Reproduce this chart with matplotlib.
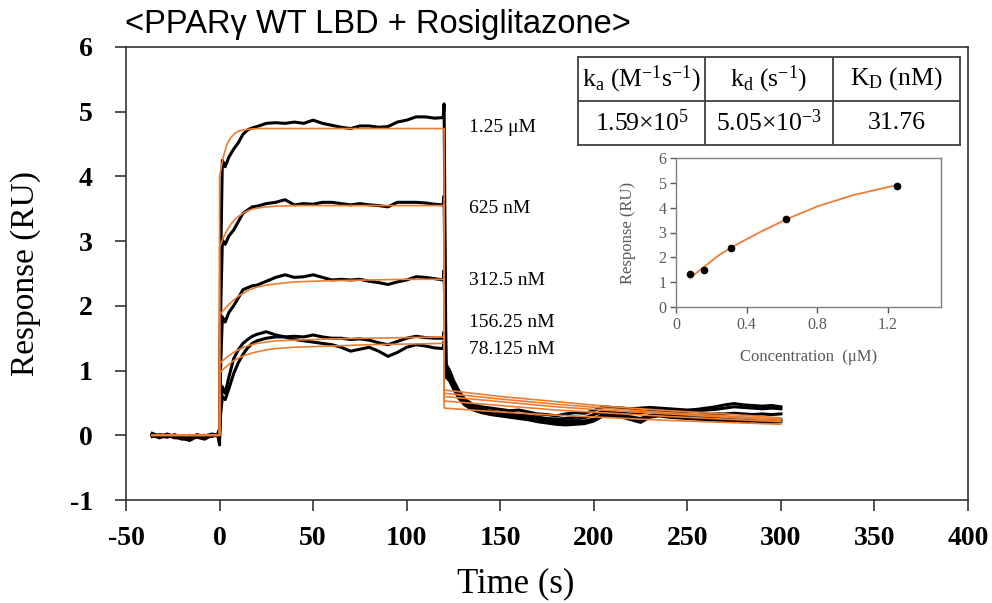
import matplotlib
matplotlib.use("Agg")
import matplotlib.pyplot as plt

plt.rcParams['font.family'] = ['Liberation Serif', 'DejaVu Serif']
plt.rcParams['mathtext.fontset'] = 'custom'
plt.rcParams['mathtext.rm'] = 'Liberation Serif'
plt.rcParams['mathtext.it'] = 'Liberation Serif:italic'
plt.rcParams['axes.unicode_minus'] = False

# ---- sensorgram data ----
conc_labels = ["1.25 \u03bcM", "625 nM", "312.5 nM", "156.25 nM", "78.125 nM"]
label_y = [4.75, 3.51, 2.39, 1.74, 1.32]

t_base = [-36, -32, -28, -24, -20, -16, -12, -8, -4, -1, 0]
t_assoc = [0.5, 1.5, 3, 5, 7.5, 10, 12.5, 15, 17.5, 20, 25, 30, 35, 40, 45, 50, 55,
           60, 65, 70, 75, 80, 85, 90, 95, 100, 105, 110, 115, 119.5, 120]
t_dissoc = [121, 123, 125, 128, 131, 135, 140, 145, 150, 155, 160, 165, 170, 175,
            180, 185, 190, 195, 200, 205, 210, 215, 220, 225, 230, 235, 240, 245,
            250, 255, 260, 265, 270, 275, 280, 285, 290, 295, 300]

base_1 = [0.03, -0.02, 0.01, -0.03, -0.05, -0.02, 0.0, -0.04, 0.01, 0.0, 0.05]
base_2 = [0.0, -0.04, 0.02, -0.02, -0.06, -0.03, 0.01, -0.02, 0.0, 0.01, -0.15]
base_3 = [0.02, -0.01, -0.03, 0.01, -0.04, -0.05, -0.01, 0.0, -0.02, 0.02, 0.1]
base_4 = [-0.02, 0.01, 0.0, -0.04, -0.03, 0.0, -0.03, -0.06, 0.0, -0.01, 0.0]
base_5 = [0.01, -0.03, -0.01, 0.0, -0.05, -0.08, -0.02, -0.01, 0.02, 0.0, -0.05]

assoc_1 = [2.5, 4.25, 4.15, 4.3, 4.42, 4.52, 4.65, 4.72, 4.75, 4.77, 4.82, 4.83, 4.82,
           4.84, 4.82, 4.87, 4.82, 4.79, 4.76, 4.74, 4.78, 4.78, 4.76, 4.77, 4.84,
           4.87, 4.92, 4.92, 4.90, 4.91, 5.12]
assoc_2 = [1.8, 3.02, 2.95, 3.08, 3.17, 3.3, 3.43, 3.48, 3.53, 3.54, 3.58, 3.6, 3.64,
           3.56, 3.58, 3.57, 3.6, 3.6, 3.58, 3.56, 3.58, 3.56, 3.55, 3.53, 3.6, 3.6,
           3.6, 3.59, 3.57, 3.56, 3.7]
assoc_3 = [1.0, 1.83, 1.75, 1.9, 2.0, 2.12, 2.25, 2.28, 2.31, 2.32, 2.38, 2.44, 2.48,
           2.44, 2.45, 2.48, 2.44, 2.40, 2.41, 2.40, 2.41, 2.38, 2.36, 2.33, 2.37,
           2.4, 2.45, 2.44, 2.42, 2.40, 2.55]
assoc_4 = [0.4, 0.75, 0.65, 0.9, 1.18, 1.32, 1.42, 1.48, 1.53, 1.56, 1.6, 1.55, 1.52,
           1.53, 1.52, 1.55, 1.52, 1.5, 1.5, 1.48, 1.49, 1.47, 1.43, 1.40, 1.45, 1.5,
           1.53, 1.51, 1.5, 1.5, 1.6]
assoc_5 = [0.3, 0.6, 0.55, 0.72, 0.95, 1.12, 1.25, 1.35, 1.42, 1.46, 1.5, 1.52, 1.52,
           1.48, 1.46, 1.44, 1.42, 1.40, 1.36, 1.3, 1.33, 1.36, 1.3, 1.22, 1.28, 1.36,
           1.4, 1.38, 1.35, 1.34, 1.45]

dissoc_1 = [1.1, 1.0, 0.85, 0.68, 0.56, 0.48, 0.44, 0.42, 0.40, 0.38, 0.39, 0.36, 0.33,
            0.32, 0.30, 0.33, 0.35, 0.34, 0.38, 0.44, 0.43, 0.42, 0.41, 0.42, 0.43,
            0.42, 0.41, 0.40, 0.39, 0.40, 0.42, 0.44, 0.47, 0.49, 0.47, 0.46, 0.45,
            0.46, 0.44]
dissoc_2 = [1.05, 0.95, 0.8, 0.63, 0.52, 0.45, 0.40, 0.37, 0.35, 0.33, 0.31, 0.30, 0.28,
            0.26, 0.25, 0.26, 0.28, 0.27, 0.32, 0.37, 0.36, 0.34, 0.33, 0.35, 0.37,
            0.38, 0.37, 0.36, 0.37, 0.38, 0.39, 0.40, 0.42, 0.44, 0.43, 0.42, 0.41,
            0.42, 0.41]
dissoc_3 = [1.0, 0.92, 0.78, 0.6, 0.5, 0.42, 0.37, 0.34, 0.31, 0.29, 0.27, 0.25, 0.22,
            0.2, 0.18, 0.19, 0.2, 0.2, 0.24, 0.33, 0.31, 0.29, 0.25, 0.21, 0.3, 0.32,
            0.3, 0.28, 0.27, 0.26, 0.27, 0.26, 0.25, 0.24, 0.24, 0.23, 0.22, 0.23, 0.24]
dissoc_4 = [0.95, 0.88, 0.74, 0.58, 0.48, 0.40, 0.35, 0.32, 0.30, 0.28, 0.26, 0.24, 0.21,
            0.19, 0.17, 0.16, 0.17, 0.18, 0.22, 0.30, 0.30, 0.28, 0.24, 0.20, 0.28,
            0.30, 0.28, 0.27, 0.26, 0.25, 0.24, 0.23, 0.22, 0.22, 0.21, 0.22, 0.21,
            0.20, 0.21]
dissoc_5 = [0.9, 0.84, 0.72, 0.57, 0.47, 0.40, 0.36, 0.33, 0.31, 0.30, 0.28, 0.27, 0.25,
            0.23, 0.21, 0.22, 0.23, 0.22, 0.25, 0.31, 0.32, 0.31, 0.28, 0.26, 0.31,
            0.33, 0.33, 0.32, 0.31, 0.31, 0.32, 0.33, 0.33, 0.34, 0.33, 0.32, 0.33,
            0.32, 0.33]

# fitted curves (orange)
fit_t_base = [-36, 0]
fit_t_assoc = [0, 2, 4, 6, 8, 10, 13, 16, 20, 25, 30, 40, 50, 60, 80, 100, 120]
fit_t_dissoc = [120, 150, 180, 210, 240, 270, 300]

fit_assoc_1 = [4.0, 4.3, 4.5, 4.6, 4.66, 4.7, 4.72, 4.73, 4.74, 4.74, 4.74, 4.74, 4.74,
               4.74, 4.74, 4.74, 4.74]
fit_assoc_2 = [2.91, 3.05, 3.17, 3.26, 3.33, 3.38, 3.44, 3.48, 3.51, 3.53, 3.54, 3.55,
               3.55, 3.55, 3.55, 3.55, 3.55]
fit_assoc_3 = [1.86, 1.93, 1.99, 2.05, 2.10, 2.15, 2.20, 2.25, 2.29, 2.32, 2.34, 2.37,
               2.38, 2.39, 2.40, 2.41, 2.41]
fit_assoc_4 = [1.11, 1.16, 1.21, 1.25, 1.29, 1.32, 1.36, 1.39, 1.42, 1.44, 1.46, 1.47,
               1.48, 1.49, 1.50, 1.51, 1.52]
fit_assoc_5 = [0.96, 1.02, 1.07, 1.12, 1.16, 1.19, 1.23, 1.26, 1.29, 1.32, 1.34, 1.36,
               1.37, 1.38, 1.40, 1.41, 1.42]

fit_dissoc_1 = [0.70, 0.60, 0.52, 0.44, 0.38, 0.33, 0.27]
fit_dissoc_2 = [0.65, 0.56, 0.48, 0.41, 0.35, 0.30, 0.25]
fit_dissoc_3 = [0.60, 0.52, 0.44, 0.38, 0.33, 0.28, 0.23]
fit_dissoc_4 = [0.53, 0.46, 0.39, 0.34, 0.29, 0.25, 0.21]
fit_dissoc_5 = [0.42, 0.36, 0.31, 0.27, 0.23, 0.20, 0.17]

# kinetics table
table_header = [r"k$_\mathrm{a}$ (M$^\mathrm{-1}$s$^\mathrm{-1}$)",
                r"k$_\mathrm{d}$ (s$^\mathrm{-1}$)",
                r"K$_\mathrm{D}$ (nM)"]
table_values = [r"1.59$\times$10$^\mathrm{5}$", r"5.05$\times$10$^\mathrm{-3}$", "31.76"]

# steady-state inset
inset_conc = [0.078125, 0.15625, 0.3125, 0.625, 1.25]
inset_resp = [1.32, 1.49, 2.39, 3.56, 4.88]
inset_fit_conc = [0.08, 0.16, 0.24, 0.32, 0.48, 0.63, 0.8, 1.0, 1.25]
inset_fit_resp = [1.18, 1.62, 2.07, 2.43, 3.03, 3.55, 4.05, 4.5, 4.91]

orange = '#ED7D31'
W, H = 992, 603

fig = plt.figure(figsize=(W / 100, H / 100), dpi=100)
ax = fig.add_axes([126 / W, 1 - 500 / H, 842 / W, 453 / H])

bases = [base_1, base_2, base_3, base_4, base_5]
assocs = [assoc_1, assoc_2, assoc_3, assoc_4, assoc_5]
dissocs = [dissoc_1, dissoc_2, dissoc_3, dissoc_4, dissoc_5]
for b, a, d in zip(bases, assocs, dissocs):
    ax.plot(t_base + t_assoc + t_dissoc, b + a + d, color='black', lw=2.2, zorder=2)

fit_assocs = [fit_assoc_1, fit_assoc_2, fit_assoc_3, fit_assoc_4, fit_assoc_5]
fit_dissocs = [fit_dissoc_1, fit_dissoc_2, fit_dissoc_3, fit_dissoc_4, fit_dissoc_5]
for fa, fd in zip(fit_assocs, fit_dissocs):
    ax.plot(fit_t_base + fit_t_assoc + fit_t_dissoc, [0, 0] + fa + fd,
            color=orange, lw=1.2, zorder=3)

for lab, yy in zip(conc_labels, label_y):
    ax.text(133.5, yy, lab, fontsize=14, va='center', ha='left')

ax.set_xlim(-50, 400)
ax.set_ylim(-1, 6)
ax.set_xticks(range(-50, 401, 50))
ax.set_yticks(range(-1, 7))
ax.tick_params(direction='out', length=8, width=1.2, labelsize=20, color='#333333')
ax.tick_params(axis='x', pad=11)
ax.tick_params(axis='y', pad=16)
for lab in ax.get_xticklabels() + ax.get_yticklabels():
    lab.set_fontweight('bold')
for sp in ax.spines.values():
    sp.set_linewidth(1.2)
    sp.set_color('#333333')
ax.set_xlabel("Time (s)", fontsize=25)
ax.xaxis.set_label_coords((516 - 126) / 842, -0.148)
ax.set_ylabel("Response (RU)", fontsize=24)
ax.yaxis.set_label_coords(-0.101, 0.5)

fig.text(125 / W, 1 - 25 / H, "<PPAR\u03b3 WT LBD + Rosiglitazone>",
         fontsize=23.5, family='Liberation Sans', va='center', ha='left')

# table
tab = fig.add_axes([578 / W, 1 - 145 / H, 382 / W, 88 / H])
tab.set_xlim(0, 3)
tab.set_ylim(0, 2)
tab.set_xticks([])
tab.set_yticks([])
for sp in tab.spines.values():
    sp.set_color('#404040')
    sp.set_linewidth(1.3)
tab.axhline(1, color='#404040', lw=1.3)
tab.axvline(1, color='#404040', lw=1.3)
tab.axvline(2, color='#404040', lw=1.3)
for i, (h, v) in enumerate(zip(table_header, table_values)):
    tab.text(i + 0.5, 1.5, h, ha='center', va='center', fontsize=18.5)
    tab.text(i + 0.5, 0.5, v, ha='center', va='center', fontsize=18.5)

# inset
gray = '#595959'
ins = fig.add_axes([676 / W, 1 - 307 / H, 265 / W, 149 / H])
ins.plot(inset_fit_conc, inset_fit_resp, color=orange, lw=1.3, zorder=2)
ins.plot(inset_conc, inset_resp, 'o', color='black', ms=4.5, zorder=3)
ins.set_xlim(0, 1.5)
ins.set_ylim(0, 6)
ins.set_xticks([0, 0.4, 0.8, 1.2])
ins.set_xticklabels(["0", "0.4", "0.8", "1.2"])
ins.set_yticks(range(0, 7))
ins.tick_params(direction='out', length=4, width=1, color=gray, labelcolor=gray,
                labelsize=11.5, pad=3)
for sp in ins.spines.values():
    sp.set_color('#7f7f7f')
    sp.set_linewidth(1.0)
ins.set_xlabel("Concentration  (\u03bcM)", fontsize=12, color=gray, labelpad=12)
ins.set_ylabel("Response (RU)", fontsize=12, color=gray, labelpad=16)

fig.savefig("out.png", dpi=100)
